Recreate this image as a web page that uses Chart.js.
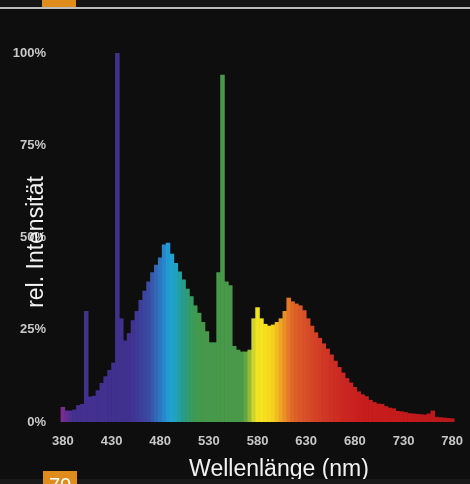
<!DOCTYPE html>
<html lang="de">
<head>
<meta charset="UTF-8">
<script src="https://cdn.jsdelivr.net/npm/chart.js@4.4.0/dist/chart.umd.min.js"></script>
<title>Spektrum</title>
<style>
  body { margin: 0; background: #0e0e0e; }
  #wrap { position: relative; width: 470px; height: 484px; overflow: hidden; }
  .deco { position: absolute; }
  #topbar { left: 0; top: 0; width: 470px; height: 7px; background: #151515; }
  #topline { left: 0; top: 7px; width: 470px; height: 2px; background: #bcbcbc; }
  #toptab { left: 42px; top: 0; width: 34px; height: 7px; background: #e08c1c; }
  #botband { left: 0; top: 479px; width: 470px; height: 5px; background: #191919; }
  #pagenum { left: 43px; top: 471px; width: 34px; height: 13px; background: #e08c1c; overflow: hidden;
             color: #fff; font: 20px "Liberation Sans", Arial, sans-serif; line-height: 20px; }
  #pagenum span { position: absolute; left: 6px; top: 4px; }
</style>
</head>
<body>
<div id="wrap">
  <canvas id="chart" width="470" height="484"></canvas>
  <div class="deco" id="topbar"></div>
  <div class="deco" id="topline"></div>
  <div class="deco" id="toptab"></div>
  <div class="deco" id="botband"></div>
  <div class="deco" id="pagenum"><span>70</span></div>
</div>
<script>

// wavelength (nm) of each bar
const wavelengths = [
  380, 384, 388, 392, 396, 400, 404, 408, 412, 416,
  420, 424, 428, 432, 436, 440, 444, 448, 452, 456,
  460, 464, 468, 472, 476, 480, 484, 488, 492, 496,
  500, 504, 508, 512, 516, 520, 524, 528, 532, 536,
  540, 544, 548, 552, 556, 560, 564, 568, 572, 576,
  580, 584, 588, 592, 596, 600, 604, 608, 612, 616,
  620, 624, 628, 632, 636, 640, 644, 648, 652, 656,
  660, 664, 668, 672, 676, 680, 684, 688, 692, 696,
  700, 704, 708, 712, 716, 720, 724, 728, 732, 736,
  740, 744, 748, 752, 756, 760, 764, 768, 772, 776,
  780
];

// relative intensity in %
const intensity = [
  4, 3, 3, 3.3, 4.5, 4.8, 30, 6.8, 7, 8.5,
  10.5, 12.3, 14, 16, 100, 28, 22, 24, 27.5, 30,
  33, 35.5, 38, 40.5, 42.5, 44.5, 48, 48.5, 45.5, 43,
  40.7, 38.5, 36, 34, 31.5, 29.5, 27, 24.5, 21.5, 21.5,
  40.5, 94, 38, 37, 20.5, 19.5, 19, 19, 19.5, 28,
  31, 28, 26.5, 26, 26.3, 27, 28, 30, 33.6, 32.6,
  32, 31.5, 30.2, 28, 26, 24.2, 22.7, 21.2, 19.8, 18.2,
  16.5, 14.8, 13.3, 11.8, 10.6, 9.4, 8.2, 7.4, 6.9, 5.9,
  5.3, 4.9, 4.8, 4.2, 3.8, 3.6, 2.9, 2.8, 2.6, 2.3,
  2.2, 2.1, 2.0, 1.9, 2.2, 3.0, 1.3, 1.2, 1.1, 1.0,
  0.9
];

const xTicks = [380, 430, 480, 530, 580, 630, 680, 730, 780];
const yTicks = [0, 25, 50, 75, 100];

// spectrum colour stops
const colorStops = [
  [376, '#8f2a93'], [383, '#6a2c95'], [390, '#44308f'], [450, '#40318f'],
  [468, '#3b4aa2'], [482, '#2b7ec6'], [490, '#1fa1da'], [497, '#21a2b8'],
  [506, '#2a9c80'], [515, '#3d9a55'], [522, '#45984a'], [566, '#4a9a48'],
  [572, '#95ba3a'], [578, '#ece226'], [585, '#f8e41e'], [597, '#f4cf1e'],
  [606, '#eb9a24'], [615, '#e06a27'], [630, '#d84d28'], [648, '#d03826'],
  [666, '#cb2822'], [686, '#c81e1e'], [730, '#c41a1a'], [790, '#b5181a']
];

function hexToRgb(h) {
  return [parseInt(h.slice(1, 3), 16), parseInt(h.slice(3, 5), 16), parseInt(h.slice(5, 7), 16)];
}

function spectrumColor(wl) {
  for (let i = 0; i < colorStops.length - 1; i++) {
    const [w0, c0] = colorStops[i];
    const [w1, c1] = colorStops[i + 1];
    if (wl <= w1) {
      const t = Math.max(0, (wl - w0) / (w1 - w0));
      const a = hexToRgb(c0), b = hexToRgb(c1);
      const rgb = a.map((v, j) => Math.round(v + (b[j] - v) * t));
      return `rgb(${rgb[0]},${rgb[1]},${rgb[2]})`;
    }
  }
  return colorStops[colorStops.length - 1][1];
}

const axisTitles = {
  id: 'axisTitles',
  afterDraw(chart) {
    const c = chart.ctx;
    c.save();
    c.fillStyle = '#f2f2f2';
    c.font = '23px "Liberation Sans", Arial, sans-serif';
    c.textAlign = 'center';
    c.textBaseline = 'alphabetic';
    c.fillText('Wellenlänge (nm)', 279, 476);
    c.translate(43, 242);
    c.rotate(-Math.PI / 2);
    c.fillText('rel. Intensität', 0, 0);
    c.restore();
  }
};

const tickFont = { family: '"Liberation Sans", Arial, sans-serif', size: 13, weight: 'bold' };

const ctx = document.getElementById('chart').getContext('2d');
const chart = new Chart(ctx, {
  type: 'bar',
  data: {
    datasets: [{
      data: wavelengths.map((w, i) => ({ x: w, y: intensity[i] })),
      backgroundColor: c => spectrumColor(wavelengths[c.dataIndex]),
      borderWidth: 0,
      barPercentage: 1,
      categoryPercentage: 1
    }]
  },
  options: {
    responsive: false,
    animation: false,
    layout: { padding: { top: 53, right: 10, bottom: 0, left: 0 } },
    plugins: { legend: { display: false }, tooltip: { enabled: false } },
    scales: {
      x: {
        type: 'linear',
        offset: false,
        min: 375,
        max: 788,
        grid: { display: false, drawTicks: false },
        border: { display: false },
        afterBuildTicks: axis => { axis.ticks = xTicks.map(v => ({ value: v })); },
        afterFit: axis => { axis.height = 62; axis.paddingLeft = 0; axis.paddingRight = 0; },
        ticks: { color: '#c8c8c8', font: tickFont, padding: 12, maxRotation: 0, autoSkip: false }
      },
      y: {
        min: 0,
        max: 100,
        grid: { display: false, drawTicks: false },
        border: { display: false },
        afterBuildTicks: axis => { axis.ticks = yTicks.map(v => ({ value: v })); },
        afterFit: axis => { axis.width = 58; axis.paddingTop = 0; axis.paddingBottom = 0; },
        ticks: { color: '#c8c8c8', font: tickFont, padding: 12, callback: v => v + '%' }
      }
    }
  },
  plugins: [axisTitles]
});

</script>
</body>
</html>
